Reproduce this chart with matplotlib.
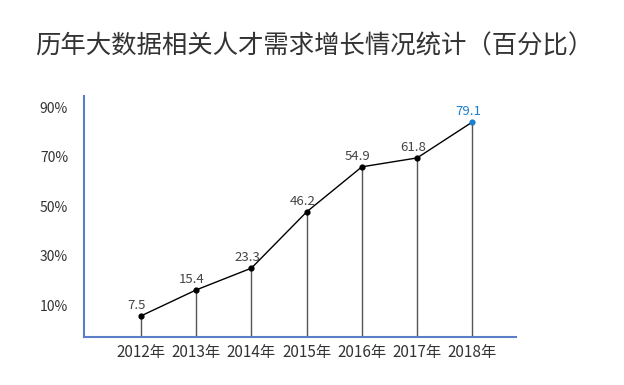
import matplotlib.pyplot as plt

plt.rcParams['font.family'] = ['Noto Sans CJK SC', 'DejaVu Sans']

# 年份与数值（点的高度按图读取，标签按图上文字）
years = ["2012年", "2013年", "2014年", "2015年", "2016年", "2017年", "2018年"]
heights = [5.7, 16.2, 25.0, 47.7, 65.9, 69.5, 84.0]
labels = ["7.5", "15.4", "23.3", "46.2", "54.9", "61.8", "79.1"]
yticks = [10, 30, 50, 70, 90]
ytick_labels = ["10%", "30%", "50%", "70%", "90%"]

blue = "#5b7fc7"
hi = "#1a7fd0"
text_col = "#333333"

fig = plt.figure(figsize=(6.24, 3.85), dpi=100)
ax = fig.add_axes([84 / 624, 48 / 385, 432 / 624, 241 / 385])

x = list(range(len(years)))
ax.plot(x, heights, color="black", linewidth=1.0, zorder=3)
ax.vlines(x, -2.8, heights, color="#555555", linewidth=1.0, zorder=2)
ax.scatter(x[:-1], heights[:-1], s=12, color="black", zorder=4)
ax.scatter(x[-1:], heights[-1:], s=12, color=hi, zorder=4)

for i, (h, lab) in enumerate(zip(heights, labels)):
    c = hi if i == len(labels) - 1 else "#444444"
    ax.annotate(lab, (i, h), xytext=(-3, 3), textcoords="offset points",
                ha="center", va="bottom", fontsize=9.5, color=c)

ax.set_xlim(-1.03, 6.79)
ax.set_ylim(-2.8, 94.5)
ax.set_xticks(x)
ax.set_xticklabels(years, fontsize=11, fontweight="medium")
ax.set_yticks(yticks)
ax.set_yticklabels(ytick_labels, fontsize=10, fontweight="medium")
ax.tick_params(axis="both", length=0, colors=text_col)
ax.tick_params(axis="y", pad=11.5)
ax.tick_params(axis="x", pad=5)

for s in ["top", "right"]:
    ax.spines[s].set_visible(False)
for s in ["left", "bottom"]:
    ax.spines[s].set_color(blue)
    ax.spines[s].set_linewidth(1.5)

fig.text(35 / 624, 1 - 47 / 385, "历年大数据相关人才需求增长情况统计（百分比）",
         fontsize=18.3, color=text_col, ha="left", va="center")

fig.savefig("out.png", dpi=100)
